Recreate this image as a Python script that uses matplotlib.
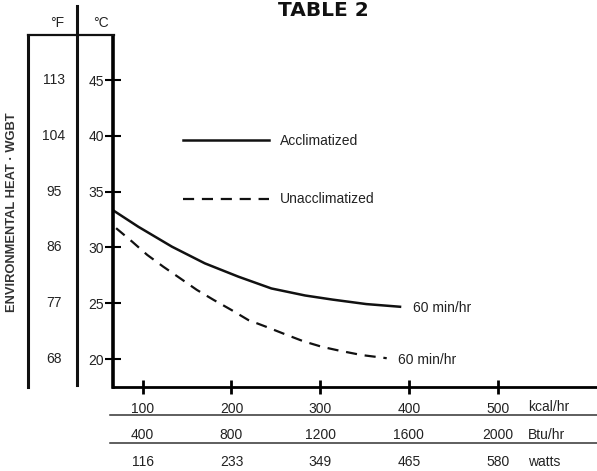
import matplotlib
matplotlib.use('Agg')
from matplotlib import pyplot as plt
from matplotlib.lines import Line2D
import matplotlib.transforms as mtransforms

plt.rcParams['font.family'] = ['Liberation Sans', 'DejaVu Sans']

# data (kcal/hr vs WGBT degC)
accl_kcal = [68, 95, 133, 170, 208, 245, 283, 314, 352, 390]
accl_temp = [33.26, 31.86, 30.07, 28.58, 27.38, 26.33, 25.7, 25.33, 24.93, 24.69]

unaccl_kcal = [70, 88, 105, 123, 142, 161, 180, 200, 219, 239, 260, 281, 302, 322, 347, 375]
unaccl_temp = [31.73, 30.53, 29.34, 28.29, 27.25, 26.2, 25.3, 24.4, 23.5, 22.9, 22.24,
               21.6, 21.1, 20.75, 20.36, 20.08]

kcal_ticks = [100, 200, 300, 400, 500]
btu_labels = ['400', '800', '1200', '1600', '2000']
watt_labels = ['116', '233', '349', '465', '580']
celsius_ticks = [20, 25, 30, 35, 40, 45]
fahrenheit_labels = ['68', '77', '86', '95', '104', '113']

W, H = 597, 471
fig = plt.figure(figsize=(W / 100, H / 100), dpi=100)


def fx(px):
    return px / W


def fy(py):
    return 1 - py / H


ax = fig.add_axes([fx(113), fy(387), fx(597) - fx(113), fy(36) - fy(387)])
ax.set_xlim(66.5, 612)
ax.set_ylim(17.5, 48.95)

ax.plot(accl_kcal, accl_temp, color='#111111', lw=1.8, label='Acclimatized')
ax.plot(unaccl_kcal, unaccl_temp, color='#111111', lw=1.6, dashes=(5, 3.5),
        label='Unacclimatized')

ax.annotate('60 min/hr', xy=(accl_kcal[-1], accl_temp[-1]), xytext=(9, -1),
            textcoords='offset points', va='center', fontsize=10, color='#222222')
ax.annotate('60 min/hr', xy=(unaccl_kcal[-1], unaccl_temp[-1]), xytext=(8, -1.5),
            textcoords='offset points', va='center', fontsize=10, color='#222222')

leg = ax.legend(loc='upper left', bbox_to_anchor=(0.1446, 0.721), frameon=False,
                handlelength=6.2, handletextpad=0.8, labelspacing=3.2,
                borderpad=0, borderaxespad=0, fontsize=10)
for t in leg.get_texts():
    t.set_color('#222222')

for s in ['top', 'right']:
    ax.spines[s].set_visible(False)
ax.spines['left'].set_linewidth(2.6)
ax.spines['bottom'].set_linewidth(2.0)

ax.set_yticks(celsius_ticks)
ax.set_yticklabels([str(c) for c in celsius_ticks])
ax.tick_params(axis='y', direction='inout', length=11, width=1.5, pad=1,
               labelsize=10, labelcolor='#222222')
ax.set_xticks(kcal_ticks)
ax.set_xticklabels([str(k) for k in kcal_ticks])
ax.tick_params(axis='x', direction='inout', length=10, width=2, pad=6,
               labelsize=10, labelcolor='#222222')

# extra unit rows under the x axis
tr = mtransforms.blended_transform_factory(ax.transData, fig.transFigure)
for k, b, w in zip(kcal_ticks, btu_labels, watt_labels):
    ax.text(k, fy(435), b, transform=tr, ha='center', va='center', fontsize=10, color='#222222')
    ax.text(k, fy(462), w, transform=tr, ha='center', va='center', fontsize=10, color='#222222')
for unit, py in [('kcal/hr', 407), ('Btu/hr', 435), ('watts', 462)]:
    fig.text(fx(528), fy(py), unit, ha='left', va='center', fontsize=10, color='#222222')
for py in [415, 443]:
    fig.add_artist(Line2D([fx(110), fx(597)], [fy(py), fy(py)], color='#333333', lw=1.1))

# fahrenheit column on the left
trf = mtransforms.blended_transform_factory(fig.transFigure, ax.transData)
for c, f in zip(celsius_ticks, fahrenheit_labels):
    fig.text(fx(54), c, f, transform=trf, ha='center', va='center', fontsize=10, color='#222222')
fig.text(fx(57), fy(23), '°F', ha='center', va='center', fontsize=10, color='#222222')
fig.text(fx(101), fy(23), '°C', ha='center', va='center', fontsize=10, color='#222222')
fig.add_artist(Line2D([fx(28), fx(28)], [fy(35), fy(387)], color='#111111', lw=2.2))
fig.add_artist(Line2D([fx(77), fx(77)], [fy(6), fy(385)], color='#111111', lw=2.2))
fig.add_artist(Line2D([fx(28), fx(114)], [fy(35), fy(35)], color='#111111', lw=1.6))

fig.text(fx(12), fy(212), 'ENVIRONMENTAL HEAT · WGBT', rotation=90, ha='center', va='center',
         fontsize=9.3, fontweight='bold', color='#333333')
fig.text(fx(323), fy(1), 'TABLE 2', ha='center', va='top', fontsize=14.5,
         fontweight='heavy', family='DejaVu Sans', color='#111111')

fig.savefig('out.png', dpi=100)
